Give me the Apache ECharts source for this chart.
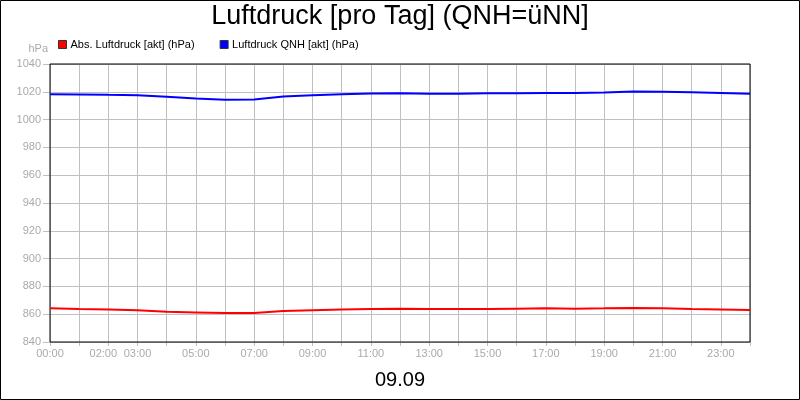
<!DOCTYPE html>
<html>
<head>
<meta charset="utf-8">
<script src="https://cdn.jsdelivr.net/npm/echarts@6/dist/echarts.min.js"></script>
<style>
  html, body { margin: 0; padding: 0; background: #fff; }
  #chart { width: 800px; height: 400px; }
</style>
</head>
<body>
<div id="chart"></div>
<script>
// hours of the day, one reading per hour
const hours = [0, 1, 2, 3, 4, 5, 6, 7, 8, 9, 10, 11, 12, 13, 14, 15, 16, 17, 18, 19, 20, 21, 22, 23, 24];
const absPressure = [864.2, 863.7, 863.3, 862.8, 861.8, 861.3, 860.8, 860.8, 862.3, 862.8, 863.3, 863.7, 864.0,
  863.7, 863.7, 863.7, 864.0, 864.2, 864.0, 864.2, 864.5, 864.2, 863.7, 863.4, 863.0];
const qnhPressure = [1018.3, 1018.1, 1017.8, 1017.6, 1016.5, 1015.2, 1014.2, 1014.4, 1016.6, 1017.6, 1018.3, 1018.8, 1019.0,
  1018.6, 1018.6, 1019.0, 1019.0, 1019.2, 1019.2, 1019.5, 1020.2, 1020.0, 1019.7, 1019.2, 1018.6];
// x labels as they appear under the hourly ticks
const hourLabels = ['00:00', '', '02:00', '03:00', '', '05:00', '', '07:00', '', '09:00', '', '11:00', '',
  '13:00', '', '15:00', '', '17:00', '', '19:00', '', '21:00', '', '23:00', ''];
const seriesNames = ['Abs. Luftdruck [akt] (hPa)', 'Luftdruck QNH [akt] (hPa)'];
const chartTitle = 'Luftdruck [pro Tag] (QNH=üNN]';
const dayLabel = '09.09';

const font = 'Liberation Sans, Arial, sans-serif';
const gray = '#aaaaaa';
const gridGray = '#c0c0c0';

const myChart = echarts.init(document.getElementById('chart'));

myChart.setOption({
  animation: false,
  backgroundColor: '#fff',
  title: [
    {
      text: chartTitle,
      left: 'center',
      top: -2,
      textStyle: { fontFamily: font, fontSize: 27, fontWeight: 'normal', color: '#000' }
    },
    {
      text: dayLabel,
      left: 'center',
      top: 365,
      textStyle: { fontFamily: font, fontSize: 20, fontWeight: 'normal', color: '#000' }
    }
  ],
  legend: {
    left: 58,
    top: 39,
    padding: 0,
    itemWidth: 8,
    itemHeight: 8,
    itemGap: 25,
    icon: 'rect',
    textStyle: { fontFamily: font, fontSize: 11, color: '#000', padding: [0, 0, 0, -1] },
    data: seriesNames.map(n => ({ name: n, itemStyle: { borderColor: '#333', borderWidth: 1 } }))
  },
  graphic: [
    {
      type: 'rect',
      shape: { x: 0.5, y: 0.5, width: 799, height: 399 },
      style: { fill: 'none', stroke: '#000', lineWidth: 1 },
      z: 100
    }
  ],
  grid: {
    left: 50,
    right: 50,
    top: 64,
    bottom: 58,
    show: true,
    borderColor: '#000',
    borderWidth: 1,
    z: 10
  },
  xAxis: {
    type: 'value',
    min: 0,
    max: 24,
    interval: 1,
    axisLine: { show: false },
    axisTick: { show: true, length: 4, lineStyle: { color: gridGray } },
    splitLine: { show: true, lineStyle: { color: gridGray, width: 1 } },
    axisLabel: {
      fontFamily: font,
      fontSize: 11,
      color: gray,
      margin: 6,
      showMinLabel: true,
      showMaxLabel: true,
      formatter: v => {
        const s = hourLabels[Math.round(v)] || '';
        if (Math.round(v) === 2) return '{l|' + s + '}';
        return s;
      },
      rich: { l: { fontFamily: font, fontSize: 11, color: gray, padding: [0, 10, 0, 0] } }
    }
  },
  yAxis: {
    type: 'value',
    min: 840,
    max: 1040,
    interval: 20,
    name: 'hPa',
    nameLocation: 'end',
    nameGap: 10,
    nameTextStyle: { fontFamily: font, fontSize: 11, color: gray, align: 'right', padding: [0, 2, 0, 0] },
    axisLine: { show: false },
    axisTick: { show: true, length: 7, lineStyle: { color: gridGray } },
    splitLine: { show: true, lineStyle: { color: gridGray, width: 1 } },
    axisLabel: { fontFamily: font, fontSize: 11, color: gray, margin: 9, formatter: v => String(v) }
  },
  series: [
    {
      name: seriesNames[0],
      type: 'line',
      data: hours.map((h, i) => [h, absPressure[i]]),
      symbol: 'none',
      color: '#ff0000',
      lineStyle: { color: '#ff0000', width: 2 },
      z: 20
    },
    {
      name: seriesNames[1],
      type: 'line',
      data: hours.map((h, i) => [h, qnhPressure[i]]),
      symbol: 'none',
      color: '#0000ff',
      lineStyle: { color: '#0000ff', width: 2 },
      z: 20
    }
  ]
});
</script>
</body>
</html>
